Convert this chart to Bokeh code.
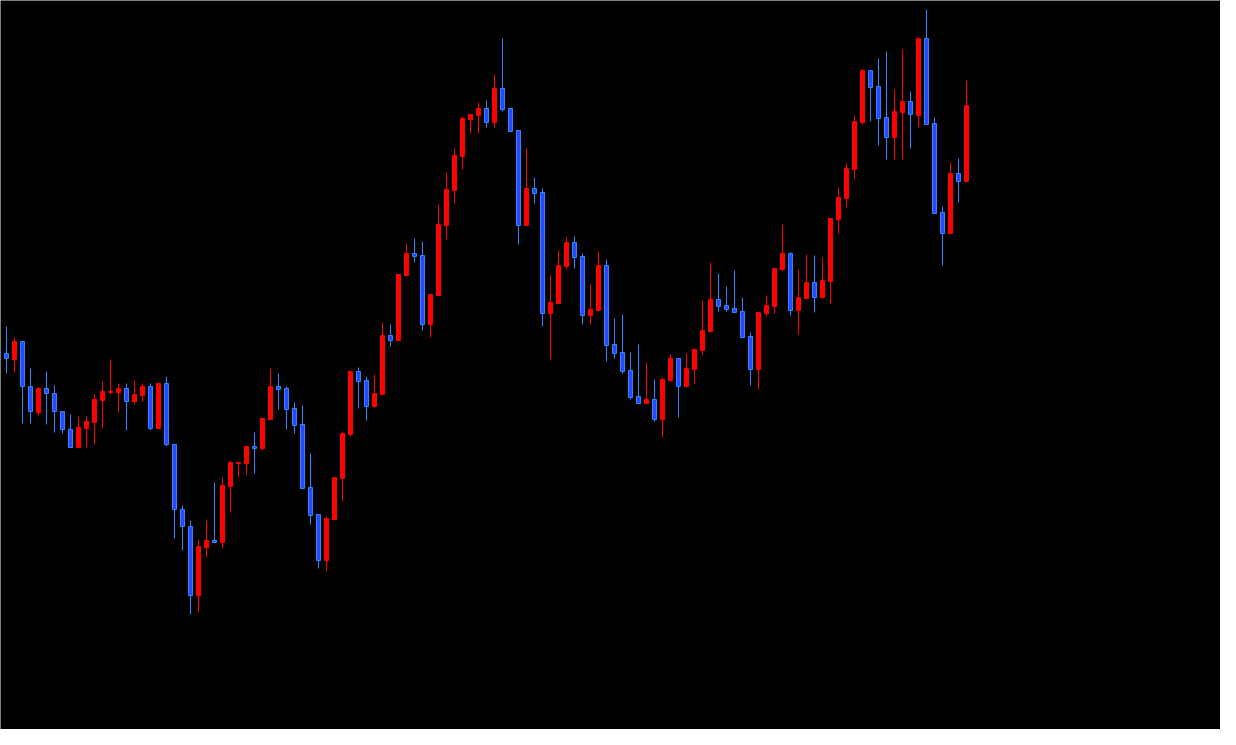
from bokeh.plotting import figure
from bokeh.models import ColumnDataSource, Range1d
from bokeh.embed import file_html
from bokeh.resources import INLINE

# Candle index (bar number) and OHLC values
idx = list(range(122))
open_ = [395, 392, 386, 404, 359, 333, 357, 352, 334, 316,
         298, 317, 323, 345, 353, 353, 357, 344, 350, 359,
         317, 362, 301, 236, 219, 150, 198, 205, 203, 259,
         282, 282, 299, 297, 326, 359, 357, 337, 321, 258,
         231, 185, 226, 267, 311, 374, 365, 339, 351, 410,
         405, 470, 492, 490, 421, 450, 520, 555, 589, 626,
         630, 637, 623, 657, 637, 615, 520, 557, 553, 432,
         442, 479, 503, 489, 430, 435, 480, 401, 393, 375,
         349, 342, 346, 326, 365, 387, 359, 376, 395, 414,
         446, 440, 437, 434, 409, 376, 432, 439, 476, 492,
         435, 447, 463, 448, 464, 526, 547, 576, 623, 675,
         659, 628, 608, 633, 644, 630, 707, 622, 533, 512,
         572, 564]
high = [395, 419, 408, 404, 377, 358, 374, 360, 334, 331,
        329, 329, 351, 364, 386, 362, 362, 365, 362, 362,
        362, 369, 301, 240, 225, 206, 226, 263, 268, 285,
        283, 299, 313, 327, 377, 372, 359, 343, 340, 292,
        231, 229, 268, 314, 374, 378, 369, 371, 423, 421,
        471, 502, 507, 504, 451, 541, 573, 597, 629, 631,
        643, 645, 671, 707, 637, 615, 597, 568, 557, 470,
        495, 508, 509, 492, 461, 494, 486, 427, 431, 393,
        401, 383, 366, 368, 391, 387, 392, 397, 445, 483,
        472, 459, 475, 448, 413, 433, 450, 477, 521, 493,
        476, 491, 490, 488, 527, 558, 582, 630, 676, 675,
        687, 694, 656, 696, 654, 708, 736, 628, 539, 583,
        587, 665]
low = [391, 372, 373, 322, 322, 330, 321, 313, 312, 298,
       298, 298, 301, 317, 351, 333, 315, 341, 344, 315,
       317, 299, 207, 195, 131, 133, 188, 203, 197, 233,
       268, 271, 272, 295, 326, 336, 316, 312, 257, 221,
       177, 174, 226, 244, 309, 337, 325, 338, 351, 399,
       405, 470, 483, 415, 408, 450, 506, 542, 576, 612,
       612, 618, 618, 634, 613, 501, 520, 542, 419, 386,
       442, 476, 477, 421, 421, 435, 384, 387, 372, 346,
       342, 342, 324, 308, 364, 328, 358, 362, 391, 414,
       434, 434, 433, 408, 360, 356, 429, 432, 474, 430,
       411, 447, 433, 447, 442, 512, 538, 567, 621, 624,
       600, 586, 586, 586, 597, 618, 621, 532, 480, 512,
       543, 564]
close = [391, 387, 404, 359, 334, 357, 352, 334, 316, 298,
         318, 324, 346, 354, 354, 357, 344, 351, 359, 317,
         362, 301, 236, 219, 150, 199, 205, 203, 260, 283,
         283, 299, 297, 327, 359, 356, 336, 320, 257, 230,
         185, 227, 268, 312, 374, 364, 339, 352, 410, 405,
         471, 492, 489, 421, 451, 521, 556, 590, 627, 631,
         637, 623, 657, 636, 614, 520, 557, 552, 432, 443,
         480, 503, 488, 430, 436, 480, 400, 392, 374, 348,
         342, 346, 326, 366, 387, 359, 377, 396, 415, 446,
         439, 436, 433, 408, 376, 433, 440, 477, 492, 435,
         448, 463, 448, 465, 527, 548, 577, 624, 675, 658,
         627, 608, 634, 644, 631, 707, 621, 532, 512, 572,
         564, 640]

UP_COLOR = "#ff0000"
DOWN_FILL = "#2f46ff"
DOWN_LINE = "#2a88ff"

up = [c >= o for o, c in zip(open_, close)]


def pick(flag):
    return ColumnDataSource(dict(
        x=[i for i, u in zip(idx, up) if u == flag],
        top=[max(o, c) for o, c, u in zip(open_, close, up) if u == flag],
        bottom=[min(o, c) for o, c, u in zip(open_, close, up) if u == flag],
        high=[h for h, u in zip(high, up) if u == flag],
        low=[l for l, u in zip(low, up) if u == flag],
    ))


src_up = pick(True)
src_dn = pick(False)

W, H = 1220, 729
p = figure(width=W, height=H, output_backend="svg", toolbar_location=None,
           x_range=Range1d(0.25, 0.25 + W / 8.0), y_range=Range1d(745 - H, 745),
           x_axis_location=None, y_axis_location=None,
           background_fill_color="#000000", border_fill_color="#000000",
           outline_line_color=None, min_border=0)
p.xgrid.visible = False
p.ygrid.visible = False

p.segment(x0="x", y0="low", x1="x", y1="high", source=src_up,
          line_color=UP_COLOR, line_width=1)
p.segment(x0="x", y0="low", x1="x", y1="high", source=src_dn,
          line_color=DOWN_LINE, line_width=1)
p.vbar(x="x", top="top", bottom="bottom", width=0.5, source=src_up,
       fill_color=UP_COLOR, line_color=UP_COLOR, line_width=1)
p.vbar(x="x", top="top", bottom="bottom", width=0.5, source=src_dn,
       fill_color=DOWN_FILL, line_color=DOWN_LINE, line_width=1)

html = file_html(p, INLINE, title="Candlestick")
html = html.replace("<body>", '<body style="background-color:#000000;">', 1)
open("out.html", "w").write(html)
